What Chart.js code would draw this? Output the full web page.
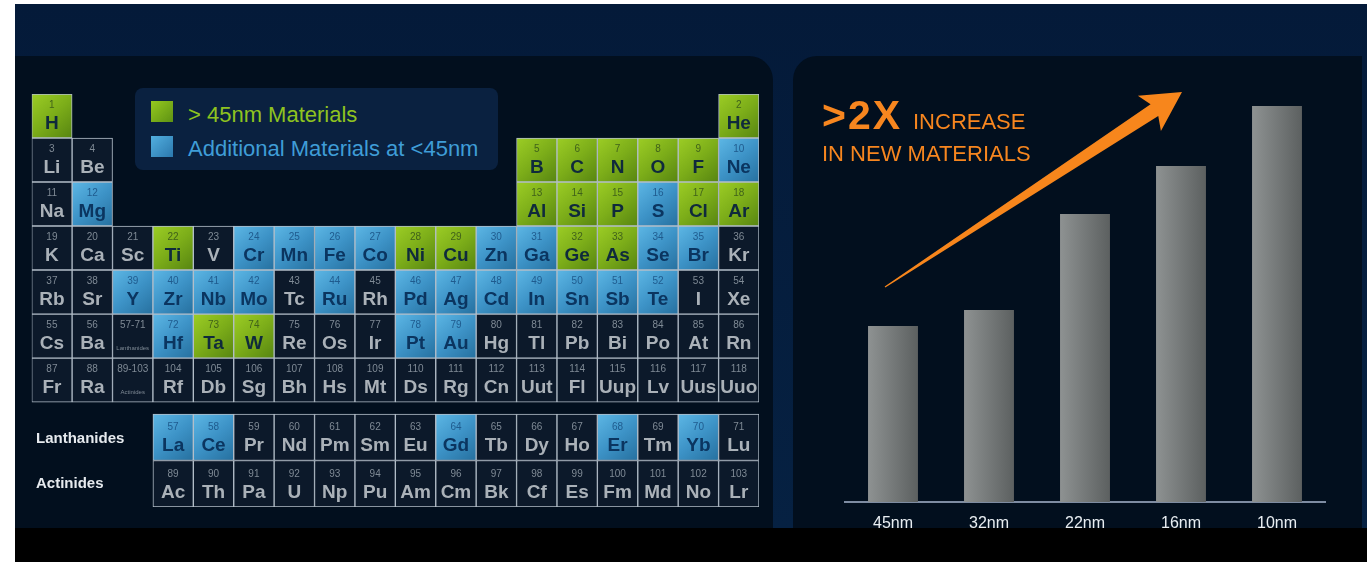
<!DOCTYPE html>
<html>
<head>
<meta charset="utf-8">
<script src="https://cdn.jsdelivr.net/npm/chart.js@4.4.1/dist/chart.umd.min.js"></script>
<style>
  body { margin: 0; background: #fff; }
  #stage { position: relative; width: 1367px; height: 562px; overflow: hidden; font-family: "Liberation Sans", Arial, sans-serif; }
  #backdrop { position: absolute; left: 15px; top: 4px; width: 1352px; height: 524px; background: linear-gradient(#041a39, #062142); }
  .panel { position: absolute; top: 56px; height: 472px; background: #020f1e; }
  #leftPanel { left: 15px; width: 758px; border-top-right-radius: 24px; }
  #rightPanel { left: 793px; width: 569px; border-top-left-radius: 24px; }
  canvas { position: absolute; }
  #tableChart { left: 15px; top: 56px; }
  #barChart { left: 793px; top: 56px; }
  #legendBox { position: absolute; left: 135px; top: 88px; width: 363px; height: 82px; border-radius: 8px; background: #0a2140; }
  .swatch { position: absolute; left: 16px; width: 22px; height: 21px; }
  .legendText { position: absolute; left: 53px; font-size: 22px; line-height: 22px; white-space: nowrap; }
  .rowName { position: absolute; left: 36px; font-size: 15px; line-height: 15px; font-weight: bold; color: #e6eaee; }
  .headline { position: absolute; color: #f7861f; white-space: nowrap; }
  #bottomBand { position: absolute; left: 15px; top: 528px; width: 1352px; height: 34px; background: #000; }
</style>
</head>
<body>
<div id="stage">
  <div id="backdrop"></div>
  <div class="panel" id="leftPanel"></div>
  <div class="panel" id="rightPanel"></div>
  <canvas id="tableChart" width="758" height="472"></canvas>
  <canvas id="barChart" width="569" height="490"></canvas>

  <div id="legendBox">
    <div class="swatch" style="top:13px;background:linear-gradient(135deg,#95c91f,#5e9213);"></div>
    <div class="legendText" style="top:16px;color:#8fc31f;">&gt; 45nm Materials</div>
    <div class="swatch" style="top:48px;background:linear-gradient(135deg,#52afe0,#2b78ad);"></div>
    <div class="legendText" style="top:50px;color:#3f9dd7;">Additional Materials at &lt;45nm</div>
  </div>
  <div class="rowName" style="top:430px;">Lanthanides</div>
  <div class="rowName" style="top:475px;">Actinides</div>

  <div class="headline" style="left:822px;top:95px;font-size:41px;line-height:41px;font-weight:bold;letter-spacing:2px;">&gt;2X</div>
  <div class="headline" style="left:913px;top:111px;font-size:22px;line-height:22px;">INCREASE</div>
  <div class="headline" style="left:822px;top:143px;font-size:22px;line-height:22px;">IN NEW MATERIALS</div>

  <div id="bottomBand"></div>
</div>

<script>
// process nodes and how many materials each one uses
const nodes = ['45nm', '32nm', '22nm', '16nm', '10nm'];
const materialCount = [44, 48, 72, 84, 99];

// periodic table, one array per period, columns = groups 1..18
const groupLabels = ['1', '2', '3', '4', '5', '6', '7', '8', '9', '10', '11', '12', '13', '14', '15', '16', '17', '18'];
const periods = [
  ['H', '', '', '', '', '', '', '', '', '', '', '', '', '', '', '', '', 'He'],
  ['Li', 'Be', '', '', '', '', '', '', '', '', '', '', 'B', 'C', 'N', 'O', 'F', 'Ne'],
  ['Na', 'Mg', '', '', '', '', '', '', '', '', '', '', 'Al', 'Si', 'P', 'S', 'Cl', 'Ar'],
  ['K', 'Ca', 'Sc', 'Ti', 'V', 'Cr', 'Mn', 'Fe', 'Co', 'Ni', 'Cu', 'Zn', 'Ga', 'Ge', 'As', 'Se', 'Br', 'Kr'],
  ['Rb', 'Sr', 'Y', 'Zr', 'Nb', 'Mo', 'Tc', 'Ru', 'Rh', 'Pd', 'Ag', 'Cd', 'In', 'Sn', 'Sb', 'Te', 'I', 'Xe'],
  ['Cs', 'Ba', '57-71', 'Hf', 'Ta', 'W', 'Re', 'Os', 'Ir', 'Pt', 'Au', 'Hg', 'Tl', 'Pb', 'Bi', 'Po', 'At', 'Rn'],
  ['Fr', 'Ra', '89-103', 'Rf', 'Db', 'Sg', 'Bh', 'Hs', 'Mt', 'Ds', 'Rg', 'Cn', 'Uut', 'Fl', 'Uup', 'Lv', 'Uus', 'Uuo']
];
const periodStart = [1, 3, 11, 19, 37, 55, 87];
const lanthanides = ['La', 'Ce', 'Pr', 'Nd', 'Pm', 'Sm', 'Eu', 'Gd', 'Tb', 'Dy', 'Ho', 'Er', 'Tm', 'Yb', 'Lu'];
const actinides = ['Ac', 'Th', 'Pa', 'U', 'Np', 'Pu', 'Am', 'Cm', 'Bk', 'Cf', 'Es', 'Fm', 'Md', 'No', 'Lr'];

// materials in use down to 45nm, and the ones added below 45nm
const above45 = ['H', 'He', 'B', 'C', 'N', 'O', 'F', 'Al', 'Si', 'P', 'Cl', 'Ar', 'Ti', 'Ni', 'Cu', 'Ge', 'As', 'Ta', 'W'];
const below45 = ['Ne', 'Mg', 'S', 'Cr', 'Mn', 'Fe', 'Co', 'Zn', 'Ga', 'Se', 'Br', 'Y', 'Zr', 'Nb', 'Mo', 'Ru', 'Pd', 'Ag',
  'Cd', 'In', 'Sn', 'Sb', 'Te', 'Hf', 'Pt', 'Au', 'La', 'Ce', 'Gd', 'Er', 'Yb'];

const F_TOP = 7.27;    // f-block rows sit a little below period 7
const F_ROW = 1.057;

function kindOf(sym) {
  if (above45.includes(sym)) return 'green';
  if (below45.includes(sym)) return 'blue';
  return 'plain';
}

const cells = [];
periods.forEach((row, p) => {
  let n = periodStart[p];
  row.forEach((sym, g) => {
    if (!sym) return;
    if (sym.includes('-')) {
      cells.push({ x: groupLabels[g], y: [p, p + 1], sym: '', num: sym, note: p === 5 ? 'Lanthanides' : 'Actinides', kind: 'plain' });
      n += 15;
      return;
    }
    cells.push({ x: groupLabels[g], y: [p, p + 1], sym: sym, num: n++, kind: kindOf(sym) });
  });
});
[[lanthanides, 57], [actinides, 89]].forEach(([list, first], r) => {
  const top = F_TOP + r * F_ROW;
  list.forEach((sym, i) => {
    cells.push({ x: groupLabels[i + 3], y: [top, top + F_ROW], sym: sym, num: first + i, kind: kindOf(sym) });
  });
});

const cellStops = {
  green: ['#9ccd25', '#7cad19', '#578511'],
  blue: ['#5db7e5', '#3d93c7', '#26709f']
};
const textColors = {
  green: { num: '#40621a', sym: '#0f2a3c' },
  blue: { num: '#1f5b8e', sym: '#0b3560' },
  plain: { num: '#7f8a95', sym: '#aab1b8' }
};

function cellFill(ctx) {
  const chart = ctx.chart;
  const d = ctx.raw;
  if (!d || d.kind === 'plain' || !chart.chartArea) return '#0c192a';
  const xs = chart.scales.x, ys = chart.scales.y;
  const w = xs.width / groupLabels.length;
  const cx = xs.getPixelForValue(groupLabels.indexOf(d.x));
  const top = ys.getPixelForValue(d.y[0]);
  const bottom = ys.getPixelForValue(d.y[1]);
  const g = chart.ctx.createLinearGradient(cx - w / 2, top, cx + w / 2, bottom);
  const stops = cellStops[d.kind];
  g.addColorStop(0, stops[0]);
  g.addColorStop(0.5, stops[1]);
  g.addColorStop(1, stops[2]);
  return g;
}

// symbol and atomic number inside every cell
const cellText = {
  id: 'cellText',
  afterDatasetsDraw(chart) {
    const c = chart.ctx;
    const data = chart.data.datasets[0].data;
    c.save();
    c.textAlign = 'center';
    c.textBaseline = 'alphabetic';
    chart.getDatasetMeta(0).data.forEach((bar, i) => {
      const d = data[i];
      const bottom = Math.max(bar.y, bar.base);
      const col = textColors[d.kind];
      const symBase = bottom - 9.5;
      if (d.note) {
        c.fillStyle = col.num;
        c.font = '10px "Liberation Sans", Arial, sans-serif';
        c.fillText(d.num, bar.x, symBase - 21);
        c.font = '6px "Liberation Sans", Arial, sans-serif';
        c.fillText(d.note, bar.x, symBase + 1);
        return;
      }
      c.fillStyle = col.num;
      c.font = '10px "Liberation Sans", Arial, sans-serif';
      c.fillText(String(d.num), bar.x, symBase - 21);
      c.fillStyle = col.sym;
      c.font = 'bold 19px "Liberation Sans", Arial, sans-serif';
      c.fillText(d.sym, bar.x, symBase);
    });
    c.restore();
  }
};

new Chart(document.getElementById('tableChart'), {
  type: 'bar',
  data: {
    labels: groupLabels,
    datasets: [{
      data: cells,
      backgroundColor: cellFill,
      borderColor: '#b3bec9',
      borderWidth: 1,
      borderSkipped: false,
      barPercentage: 1,
      categoryPercentage: 1
    }]
  },
  options: {
    responsive: false,
    animation: false,
    events: [],
    layout: { padding: { left: 16.7, right: 14, top: 38, bottom: 21 } },
    plugins: { legend: { display: false }, tooltip: { enabled: false } },
    scales: {
      x: { display: false },
      y: { display: false, reverse: true, min: 0, max: F_TOP + 2 * F_ROW }
    }
  },
  plugins: [cellText]
});

// grey bars, lighter on the left edge and darker to the right
function barFill(ctx) {
  const chart = ctx.chart;
  if (!chart.chartArea) return '#777b7b';
  const xs = chart.scales.x;
  const half = xs.width / nodes.length * 0.52 / 2;
  const cx = xs.getPixelForValue(ctx.dataIndex);
  const g = chart.ctx.createLinearGradient(cx - half, 0, cx + half, 0);
  g.addColorStop(0, '#8e9292');
  g.addColorStop(1, '#5c6060');
  return g;
}

// orange trend arrow over the bars
const trendArrow = {
  id: 'trendArrow',
  afterDraw(chart) {
    const c = chart.ctx;
    const tail = { x: 92, y: 231 };
    const tip = { x: 389, y: 36 };
    const len = Math.hypot(tip.x - tail.x, tip.y - tail.y);
    const u = { x: (tip.x - tail.x) / len, y: (tip.y - tail.y) / len };
    const n = { x: -u.y, y: u.x };
    const at = (along, side) => [tip.x - u.x * along + n.x * side, tip.y - u.y * along + n.y * side];
    const pts = [
      at(len, -0.6), at(33, -7), at(39, -21), [tip.x, tip.y],
      at(39, 21), at(33, 7), at(len, 0.6)
    ];
    c.save();
    c.fillStyle = '#f7861c';
    c.beginPath();
    pts.forEach((p, i) => i ? c.lineTo(p[0], p[1]) : c.moveTo(p[0], p[1]));
    c.closePath();
    c.fill();
    c.restore();
  }
};

new Chart(document.getElementById('barChart'), {
  type: 'bar',
  data: {
    labels: nodes,
    datasets: [{
      data: materialCount,
      backgroundColor: barFill,
      borderWidth: 0,
      barPercentage: 0.52,
      categoryPercentage: 1
    }]
  },
  options: {
    responsive: false,
    animation: false,
    events: [],
    layout: { padding: { left: 52, right: 37, top: 46, bottom: 0 } },
    plugins: { legend: { display: false }, tooltip: { enabled: false } },
    scales: {
      x: {
        grid: { display: false, drawTicks: false },
        border: { display: true, color: '#7e8ca2', width: 2 },
        ticks: { color: '#e9eef2', padding: 12, font: { size: 16, family: '"Liberation Sans", Arial, sans-serif' } },
        afterFit(scale) { scale.height = 44; }
      },
      y: { display: false, min: 0, max: 100 }
    }
  },
  plugins: [trendArrow]
});
</script>
</body>
</html>
